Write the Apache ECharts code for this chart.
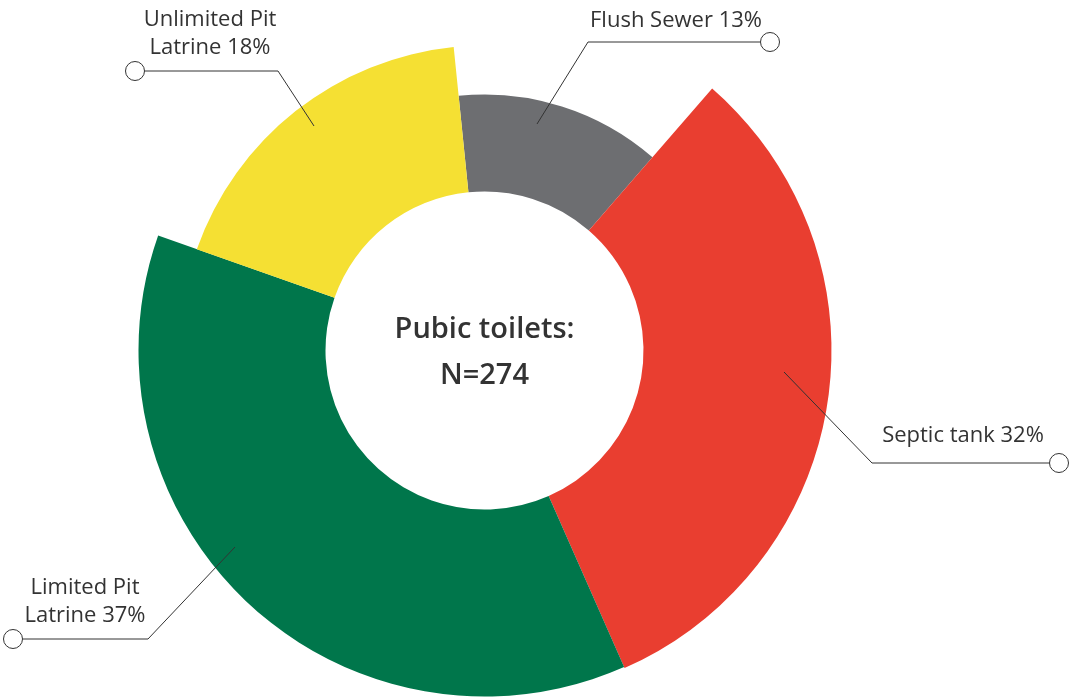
<!DOCTYPE html>
<html>
<head>
<meta charset="utf-8">
<script src="https://cdn.jsdelivr.net/npm/echarts@6/dist/echarts.min.js"></script>
<style>
  html, body { margin: 0; padding: 0; background: #ffffff; }
  #chart { width: 1070px; height: 698px; }
</style>
</head>
<body>
<div id="chart"></div>
<script>
// Public toilets by type of sanitation (share of N=274)
const categories = ['Flush Sewer', 'Septic tank', 'Limited Pit\nLatrine', 'Unlimited Pit\nLatrine'];
const shares = [13, 32, 37, 18];
const centerLines = ['Pubic toilets:', 'N=274'];

// Look of the ring
const colors = ['#6d6e71', '#e93e30', '#00764b', '#f5e033'];
const outerRadii = [256, 347, 346, 305];
const innerRadius = 159;
const pieCenter = [484.5, 350.5];
const startAngle = 95.8;
const textColor = '#333333';
const fontFamily = '"Open Sans", "Noto Sans", sans-serif';

// Leader lines: start inside the slice, elbow, end (centre of the ring marker);
// text is centred above the horizontal run
const guides = [
  { start: [537, 124], elbow: [588, 42],  end: [770, 42],  text: [676, 35] },
  { start: [784, 372], elbow: [872, 463], end: [1059, 463], text: [963, 450] },
  { start: [235, 547], elbow: [148, 639], end: [13, 639],  text: [85, 630] },
  { start: [314, 126], elbow: [278, 71],  end: [135, 71],  text: [210, 62] }
];
const dotRadius = 9.5;

// One pie per slice so each slice can have its own outer radius;
// the other slices of each pie are left transparent.
const slicePies = shares.map((_, k) => ({
  type: 'pie',
  center: pieCenter,
  radius: [innerRadius, outerRadii[k]],
  startAngle: startAngle,
  clockwise: true,
  silent: true,
  animation: false,
  z: 2,
  label: { show: false },
  labelLine: { show: false },
  data: shares.map((v, i) => ({
    name: categories[i],
    value: v,
    itemStyle: { color: i === k ? colors[i] : 'rgba(0,0,0,0)', borderWidth: 0 }
  }))
}));

// A transparent pie on top that carries the labels and leader lines
const labelPie = {
  type: 'pie',
  center: pieCenter,
  radius: [innerRadius, innerRadius + 1],
  startAngle: startAngle,
  clockwise: true,
  silent: true,
  animation: false,
  avoidLabelOverlap: false,
  z: 5,
  itemStyle: { color: 'rgba(0,0,0,0)', borderWidth: 0 },
  data: shares.map((v, i) => ({ name: categories[i], value: v })),
  label: {
    show: true,
    position: 'outside',
    formatter: p => `${p.name} ${p.value}%`,
    color: textColor,
    fontFamily: fontFamily,
    fontSize: 22,
    lineHeight: 28.5,
    align: 'center'
  },
  labelLine: { show: true, lineStyle: { color: textColor, width: 1 } },
  labelLayout: params => {
    const g = guides[params.dataIndex];
    const dir = g.end[0] > g.elbow[0] ? 1 : -1;
    return {
      x: g.text[0],
      y: g.text[1],
      align: 'center',
      verticalAlign: 'bottom',
      labelLinePoints: [g.start, g.elbow, [g.end[0] - dir * dotRadius, g.end[1]]]
    };
  }
};

const chart = echarts.init(document.getElementById('chart'), null, { renderer: 'canvas' });
chart.setOption({
  backgroundColor: '#ffffff',
  animation: false,
  series: [...slicePies, labelPie],
  graphic: [
    ...guides.map(g => ({
      type: 'circle',
      z: 10,
      shape: { cx: g.end[0], cy: g.end[1], r: dotRadius },
      style: { fill: '#ffffff', stroke: textColor, lineWidth: 1 }
    })),
    {
      type: 'text',
      z: 10,
      x: pieCenter[0],
      y: pieCenter[1] + 2,
      style: {
        text: centerLines.join('\n'),
        fill: textColor,
        fontFamily: fontFamily,
        fontSize: 29,
        fontWeight: 600,
        lineHeight: 46,
        align: 'center',
        verticalAlign: 'middle'
      }
    }
  ]
});
</script>
</body>
</html>
